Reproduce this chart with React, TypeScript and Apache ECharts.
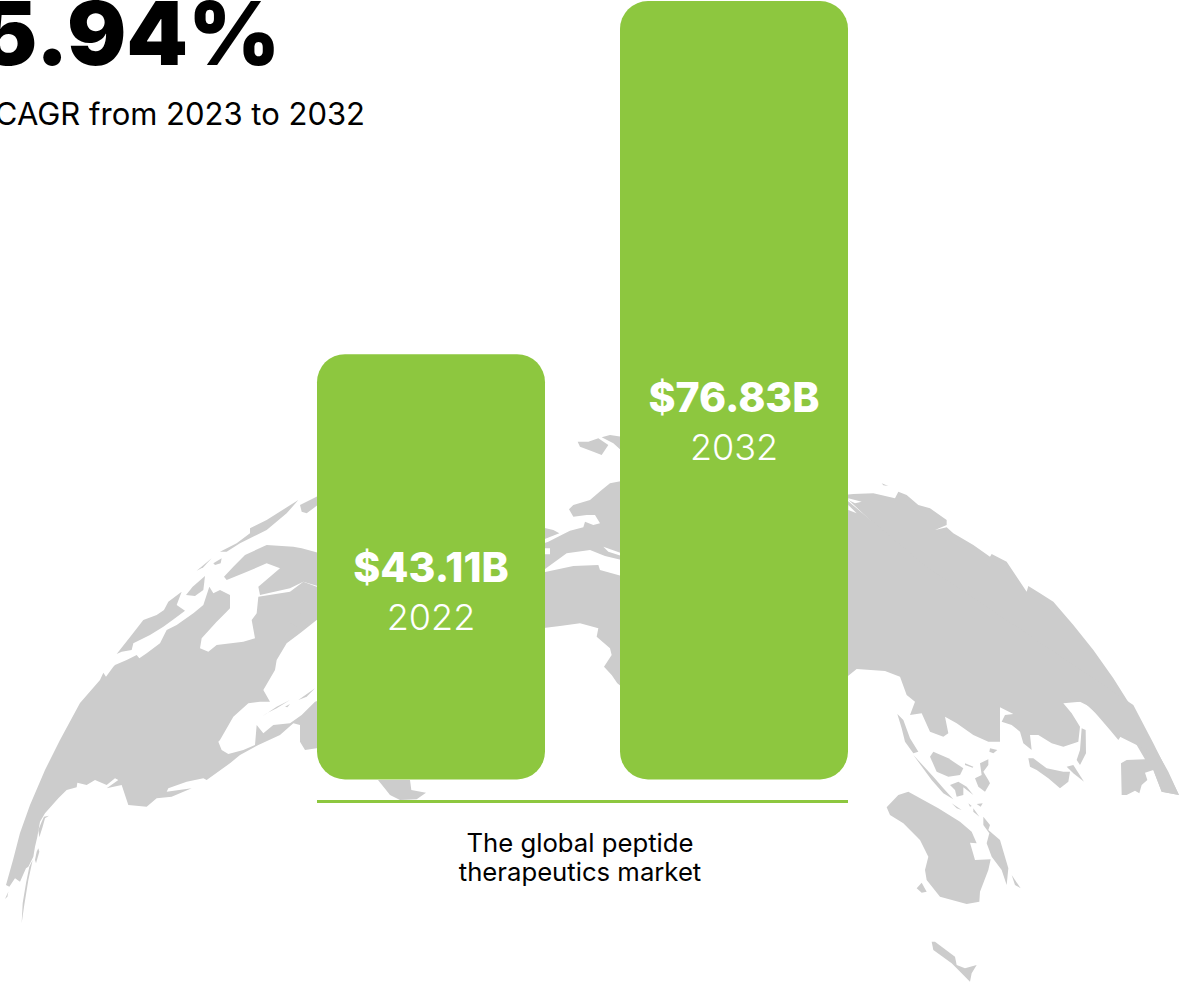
import React, { useEffect, useRef } from "react";
import * as echarts from "echarts";

const categories = ["2022", "2032"];
const marketValues = [43.11, 76.83];
const valueLabels = ["$43.11B", "$76.83B"];
const headline = "5.94%";
const subhead = "CAGR from 2023 to 2032";
const captionLines = ["The global peptide", "therapeutics market"];

const GREEN = "#8dc73f";
const GREY = "#cccccc";
const FONT = "Inter, 'Open Sans', sans-serif";

type Trace = number[];

const land: Trace[] = [
  // Americas
  [0, 0, 18, 2655, 39, 2580, 60, 2499, 90, 2415, 135, 2310, 180, 2220, 240, 2109, 300, 2040, 310, 2018, 318, 2030, 340, 2000, 345, 1995, 380, 1980, 410, 1965, 418, 1975, 440, 1960, 480, 1930, 500, 1890, 530, 1875, 580, 1840, 610, 1815, 628, 1760, 640, 1780, 660, 1770, 690, 1785, 690, 1825, 680, 1835, 650, 1865, 605, 1915, 600, 1945, 625, 1955, 650, 1935, 730, 1925, 765, 1915, 755, 1860, 770, 1840, 775, 1790, 870, 1775, 910, 1745, 950, 1760, 960, 1760, 960, 1860, 950, 1860, 900, 1900, 860, 1930, 830, 1980, 825, 2010, 790, 2070, 810, 2105, 780, 2105, 745, 2110, 700, 2150, 660, 2220, 655, 2225, 665, 2250, 685, 2262, 730, 2250, 765, 2235, 770, 2175, 790, 2200, 820, 2175, 870, 2170, 905, 2145, 945, 2105, 960, 2100, 960, 2240, 950, 2245, 915, 2250, 900, 2225, 900, 2175, 880, 2170, 840, 2205, 775, 2235, 720, 2265, 690, 2290, 620, 2340, 610, 2335, 560, 2345, 505, 2365, 500, 2375, 575, 2365, 515, 2390, 470, 2395, 440, 2420, 385, 2415, 365, 2355, 320, 2365, 355, 2340, 345, 2335, 320, 2355, 285, 2340, 260, 2355, 232, 2348, 230, 2362, 200, 2370, 175, 2395, 135, 2440, 120, 2465, 112, 2510, 105, 2540, 100, 2570, 85, 2600, 78, 2605, 60, 2645, 45, 2635, 28, 2660],
  [0, 0, 125, 2465, 132, 2450, 147, 2447, 135, 2455, 128, 2480, 118, 2512, 115, 2490],
  [0, 0, 110, 2555, 115, 2545, 118, 2555, 108, 2590, 105, 2580],
  [0, 0, 88, 2600, 98, 2580, 85, 2640, 72, 2720, 65, 2770, 68, 2710, 78, 2650],
  [0, 0, 15, 2697, 25, 2675, 22, 2690],
  [0, 0, 785, 2150, 830, 2120, 870, 2100, 830, 2125, 800, 2140],
  [0, 0, 855, 2120, 870, 2112, 862, 2122],
  [0, 0, 895, 2100, 945, 2065, 920, 2090],
  // Arctic islands
  [0, 1440, 350, 522, 395, 465, 430, 420, 470, 405, 492, 390, 505, 365, 545, 335, 530, 375, 555, 392, 525, 415, 490, 440, 450, 465, 400, 490, 395, 510, 365, 515],
  [0, 1440, 558, 345, 578, 320, 615, 288, 610, 330, 585, 348],
  [0, 1440, 590, 272, 635, 235, 610, 262],
  [0, 1440, 640, 250, 665, 235, 662, 250, 645, 255],
  [0, 1440, 660, 215, 710, 190, 750, 160, 750, 145, 800, 120, 895, 60, 860, 100, 800, 150, 770, 165, 720, 190, 680, 215],
  [0, 1440, 672, 290, 700, 260, 735, 225, 800, 195, 880, 200, 905, 205, 960, 220, 960, 320, 910, 305, 870, 325, 780, 345, 775, 320, 840, 265, 800, 250, 730, 280, 680, 300],
  [0, 1440, 900, 75, 960, 45, 960, 70, 920, 100, 905, 95],
  [0, 1440, 870, 430, 900, 400, 960, 380, 960, 415, 895, 440],
  // Land under the first bar
  [1134, 2340, 0, 0, 20, 25, 36, 45, 66, 60, 116, 58, 144, 38, 100, 30, 96, 0],
  // Europe and Africa
  [1590, 1260, 143, 65, 175, 65, 205, 55, 235, 75, 215, 105, 190, 95, 150, 80],
  [1590, 1260, 215, 52, 240, 45, 275, 50, 275, 92, 250, 70],
  [1590, 1260, 275, 183, 240, 190, 215, 210, 180, 240, 130, 255, 117, 268, 130, 290, 170, 285, 195, 285, 210, 310, 190, 315, 165, 305, 160, 322, 120, 332, 90, 347, 55, 365, 35, 372, 35, 385, 60, 385, 60, 403, 35, 403, 35, 447, 45, 447, 75, 425, 110, 400, 180, 390, 225, 408, 275, 420],
  [1590, 1260, 35, 322, 70, 330, 88, 340, 50, 355, 35, 360],
  [1590, 1260, 35, 458, 130, 438, 205, 435, 210, 450, 275, 468, 275, 800, 262, 790, 245, 765, 222, 740, 245, 705, 240, 685, 200, 650, 205, 625, 150, 610, 90, 618, 35, 625],
  // Asia
  [2520, 1410, 10, 75, 40, 72, 100, 70, 165, 85, 175, 65, 200, 75, 235, 105, 270, 115, 320, 150, 320, 165, 285, 180, 320, 172, 340, 190, 400, 225, 450, 260, 455, 252, 500, 275, 530, 320, 560, 365, 565, 348, 600, 370, 640, 395, 700, 465, 760, 540, 820, 625, 880, 720, 940, 825, 985, 905, 1017, 975, 965, 965, 940, 900, 915, 868, 890, 825, 840, 800, 800, 760, 730, 695, 670, 695],
  [2580, 2100, 820, 15, 880, 130, 957, 285, 905, 275, 880, 210, 855, 218, 862, 240, 845, 255, 838, 280, 825, 272, 800, 285, 785, 285, 783, 190, 800, 180, 855, 178, 862, 150, 830, 135, 818, 115, 785, 105, 775, 120, 750, 90, 690, 20, 660, 5, 610, 10, 635, 40, 660, 80, 655, 125, 610, 140, 575, 130, 535, 105, 510, 105, 515, 150, 490, 130, 480, 95, 455, 75, 425, 65, 435, 45, 460, 42, 420, 22, 420, 125, 385, 125, 340, 105, 290, 70, 255, 50, 265, 100, 250, 110, 210, 95, 185, 40, 150, 45, 165, 5, 140, -15, 120, -70, 75, -87, -10, -93, -35, -73, -100, -60, -100, -650, 200, -400],
  // Islands
  [2580, 2100, 112, 42, 130, 60, 150, 115, 175, 155, 160, 160, 135, 125, 125, 85],
  [2580, 2100, 160, 165, 220, 230, 250, 265, 280, 298, 250, 280, 215, 240],
  [2580, 2100, 210, 170, 220, 155, 265, 175, 310, 205, 300, 225, 265, 230, 230, 215],
  [2580, 2100, 315, 190, 340, 200, 338, 203, 315, 195],
  [2580, 2100, 390, 145, 412, 150, 400, 160, 388, 155],
  [2580, 2100, 360, 190, 385, 178, 385, 195, 370, 215, 385, 240, 390, 250, 375, 275, 355, 260, 345, 235, 365, 225],
  [2580, 2100, 270, 255, 295, 245, 320, 260, 340, 285, 310, 262, 310, 285, 290, 290, 285, 270],
  [2580, 2100, 275, 310, 305, 330, 290, 325],
  [2580, 2100, 325, 310, 335, 318, 330, 320],
  [2580, 2100, 350, 312, 368, 310, 362, 320],
  [2580, 2100, 340, 325, 358, 350, 340, 335],
  [2580, 2100, 505, 175, 520, 175, 560, 205, 610, 215, 630, 215, 625, 245, 600, 265, 565, 235, 530, 210, 510, 200],
  [2580, 2100, 620, 200, 640, 195, 672, 245, 640, 220],
  [2580, 2100, 665, 85, 677, 90, 678, 160, 660, 195, 650, 180, 660, 150],
  [2580, 2100, 80, 322, 115, 285, 145, 275, 235, 325, 300, 365, 335, 395, 350, 430, 330, 428, 345, 480, 392, 478, 385, 510, 360, 575, 358, 605, 320, 612, 240, 590, 200, 540, 195, 510, 205, 470, 180, 420, 130, 370, 90, 345],
  [2580, 2100, 170, 565, 185, 548, 200, 575, 185, 578],
  [2580, 2100, 370, 350, 390, 375, 385, 390, 420, 420, 445, 505, 440, 555, 425, 510, 395, 470, 380, 430, 388, 400, 370, 375],
  [2580, 2100, 455, 525, 482, 565, 465, 555],
  [2580, 2100, 215, 725, 225, 725, 285, 770, 290, 795, 315, 805, 350, 795, 335, 820, 330, 845, 290, 805, 275, 790, 220, 750],
  [2520, 1410, 125, 40, 145, 48, 130, 46],
];

const water: Trace[] = [
  [1590, 1260, 220, 380, 275, 400, 275, 408, 235, 395],
  [1590, 1260, 230, 430, 275, 428, 262, 436],
  [2520, 1410, 25, 85, 65, 95, 45, 100, 25, 90],
  [2520, 1410, 25, 105, 50, 130, 25, 120],
];

const toPolygon = (trace: Trace, fill: string) => {
  const [ox, oy, ...coords] = trace;
  const points: number[][] = [];
  for (let i = 0; i < coords.length; i += 2) {
    points.push([(ox + coords[i]) / 3, (oy + coords[i + 1]) / 3]);
  }
  return { type: "polygon", silent: true, z: 0, shape: { points }, style: { fill } };
};

export default function App() {
  const ref = useRef<HTMLDivElement>(null);
  useEffect(() => {
    document.body.style.margin = "0";
    document.body.style.overflow = "hidden";
    const chart = echarts.init(ref.current!, undefined, { renderer: "svg" });
    chart.setOption({
      animation: false,
      backgroundColor: "#ffffff",
      grid: { left: 279.5, top: 1, width: 606, height: 778.5 },
      xAxis: { type: "category", data: categories, show: false },
      yAxis: { type: "value", min: 2.5, max: 76.83, show: false },
      series: [
        {
          type: "bar",
          z: 5,
          barWidth: 228,
          itemStyle: { color: GREEN, borderRadius: 28 },
          data: marketValues.map((value, i) => ({
            value,
            label: {
              show: true,
              position: "inside",
              offset: [0, i === 0 ? 25.5 : 32],
              formatter: `{v|${valueLabels[i]}}\n{y|${categories[i]}}`,
              rich: {
                v: { fontFamily: FONT, fontSize: 41, fontWeight: 800, color: "#fff", lineHeight: 50, align: "center" },
                y: { fontFamily: FONT, fontSize: 36, fontWeight: 300, color: "#fff", lineHeight: 50, align: "center" },
              },
            },
          })),
        },
      ],
      graphic: [
        ...land.map((t) => toPolygon(t, GREY)),
        ...water.map((t) => toPolygon(t, "#ffffff")),
        { type: "rect", z: 6, silent: true, shape: { x: 317, y: 800, width: 531, height: 3 }, style: { fill: GREEN } },
        { type: "text", z: 6, x: 280, y: 76.5, style: { text: headline, fontFamily: FONT, fontSize: 88, fontWeight: 900, fill: "#000", textAlign: "right", textVerticalAlign: "bottom" } },
        { type: "text", z: 6, x: 365, y: 113, style: { text: subhead, fontFamily: FONT, fontSize: 31, fontWeight: 400, fill: "#000", textAlign: "right", textVerticalAlign: "middle" } },
        { type: "text", z: 6, x: 580, y: 842, style: { text: captionLines[0], fontFamily: FONT, fontSize: 25.7, fontWeight: 400, fill: "#000", textAlign: "center", textVerticalAlign: "middle" } },
        { type: "text", z: 6, x: 580, y: 871, style: { text: captionLines[1], fontFamily: FONT, fontSize: 25.7, fontWeight: 400, fill: "#000", textAlign: "center", textVerticalAlign: "middle" } },
      ],
    });
    return () => chart.dispose();
  }, []);
  return <div ref={ref} style={{ width: 1179, height: 983 }} />;
}
